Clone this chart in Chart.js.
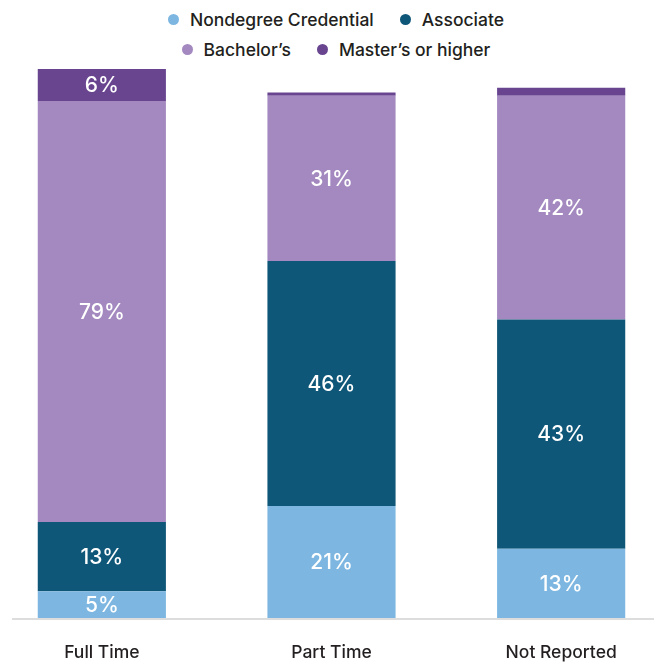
<!DOCTYPE html>
<html lang="en">
<head>
  <meta charset="UTF-8" />
  <title>Credential Type by Enrollment Status</title>
  <style>
    * { margin: 0; padding: 0; box-sizing: border-box; }
    html, body {
      width: 654px;
      height: 662px;
      overflow: hidden;
      background: #ffffff;
      font-family: 'Inter', sans-serif;
    }
    /* legend sits in two centered rows above the bars */
    .legend {
      position: absolute;
      left: 0;
      top: 4px;
      width: 672px;
    }
    .legend-row {
      display: flex;
      justify-content: center;
      align-items: center;
      height: 30px;
    }
    .legend-item {
      display: flex;
      align-items: center;
      margin: 0 13px;
      font-size: 17.5px;
      font-weight: 500;
      color: #231f20;
      white-space: nowrap;
    }
    .legend-item .dot {
      width: 11px;
      height: 11px;
      border-radius: 50%;
      margin-right: 11px;
    }
    /* canvas is a bit larger than the window so the category slots line up */
    .chart-wrap {
      position: absolute;
      left: -13px;
      top: 0;
      width: 689px;
      height: 688px;
    }
  </style>
</head>
<body>
  <div class="legend" id="legend"></div>
  <div class="chart-wrap">
    <canvas id="credChart"></canvas>
  </div>

  <script src="https://cdn.jsdelivr.net/npm/chart.js"></script>
  <script>
    // categories and series (percent of students)
    const statuses = ["Full Time", "Part Time", "Not Reported"];
    const seriesNames = ["Nondegree Credential", "Associate", "Bachelor\u2019s", "Master\u2019s or higher"];
    const nondegree = [5, 21, 13];
    const associate = [13, 46, 43];
    const bachelors = [79, 31, 42];
    const masters = [6, 0.6, 1.5];
    const seriesColors = ["#7db7e1", "#0f5778", "#a389bf", "#694590"];
    const legendRows = [[0, 1], [2, 3]];

    const seriesValues = [nondegree, associate, bachelors, masters];

    // HTML legend, two items per row
    const legendEl = document.getElementById("legend");
    legendRows.forEach(row => {
      const rowEl = document.createElement("div");
      rowEl.className = "legend-row";
      row.forEach(i => {
        const item = document.createElement("div");
        item.className = "legend-item";
        item.innerHTML = `<span class="dot" style="background:${seriesColors[i]}"></span>${seriesNames[i]}`;
        rowEl.appendChild(item);
      });
      legendEl.appendChild(rowEl);
    });

    // thin gray baseline under the bars
    const baseline = {
      id: "baseline",
      beforeDatasetsDraw(chart) {
        const ctx = chart.ctx;
        const y = chart.scales.y.getPixelForValue(0) + 1;
        ctx.save();
        ctx.strokeStyle = "#dddddd";
        ctx.lineWidth = 2;
        ctx.beginPath();
        ctx.moveTo(25, y);
        ctx.lineTo(chart.width, y);
        ctx.stroke();
        ctx.restore();
      }
    };

    // write the percentage in the middle of each segment big enough to hold it
    const segmentLabels = {
      id: "segmentLabels",
      afterDatasetsDraw(chart) {
        const ctx = chart.ctx;
        ctx.save();
        ctx.fillStyle = "#ffffff";
        ctx.font = "500 21px Inter, sans-serif";
        ctx.textAlign = "center";
        ctx.textBaseline = "middle";
        chart.data.datasets.forEach((ds, di) => {
          const meta = chart.getDatasetMeta(di);
          meta.data.forEach((bar, i) => {
            const v = ds.data[i];
            if (v < 3) return;
            ctx.fillText(v + "%", bar.x, (bar.y + bar.base) / 2 + 1);
          });
        });
        ctx.restore();
      }
    };

    new Chart(document.getElementById("credChart"), {
      type: "bar",
      data: {
        labels: statuses,
        datasets: seriesValues.map((vals, i) => ({
          label: seriesNames[i],
          data: vals,
          backgroundColor: seriesColors[i],
          borderWidth: 0,
          barPercentage: 0.558,
          categoryPercentage: 1,
          clip: false
        }))
      },
      options: {
        responsive: true,
        maintainAspectRatio: false,
        animation: false,
        events: [],
        layout: { padding: { top: 85, bottom: 0, left: 0, right: 0 } },
        scales: {
          x: {
            stacked: true,
            grid: { display: false, drawTicks: false },
            border: { display: false },
            ticks: {
              color: "#231f20",
              font: { family: "Inter, sans-serif", size: 17.5, weight: "500" },
              padding: 24.5
            }
          },
          y: {
            stacked: true,
            display: false,
            min: 0,
            max: 100
          }
        },
        plugins: {
          legend: { display: false },
          tooltip: { enabled: false }
        }
      },
      plugins: [baseline, segmentLabels]
    });
  </script>
</body>
</html>
